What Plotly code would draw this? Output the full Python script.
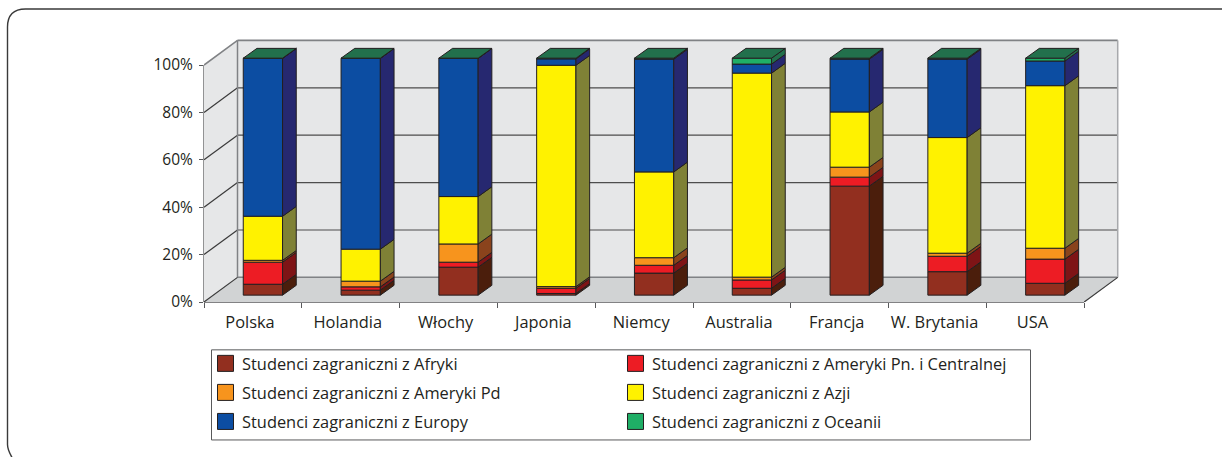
import plotly.graph_objects as go

categories = ["Polska", "Holandia", "Włochy", "Japonia", "Niemcy", "Australia", "Francja", "W. Brytania", "USA"]
afryka = [4.6, 2.1, 11.8, 0.7, 9.3, 2.9, 46.0, 9.9, 5.0]
ameryka_pn = [9.3, 1.4, 2.1, 2.2, 3.3, 3.5, 3.8, 6.5, 10.2]
ameryka_pd = [0.8, 2.4, 7.7, 0.7, 3.2, 1.2, 4.2, 1.3, 4.6]
azja = [18.6, 13.5, 20.0, 93.4, 36.2, 86.1, 23.3, 48.8, 68.6]
europa = [66.6, 80.5, 58.3, 2.7, 47.6, 3.8, 22.3, 33.1, 10.4]
oceania = [0.1, 0.1, 0.1, 0.3, 0.4, 2.5, 0.4, 0.4, 1.2]

series_names = ["Studenci zagraniczni z Afryki", "Studenci zagraniczni z Ameryki Pn. i Centralnej",
                "Studenci zagraniczni z Ameryki Pd", "Studenci zagraniczni z Azji",
                "Studenci zagraniczni z Europy", "Studenci zagraniczni z Oceanii"]
series_values = [afryka, ameryka_pn, ameryka_pd, azja, europa, oceania]
front_colors = ["#922f1f", "#ed1c24", "#f7941d", "#fff200", "#0c4da2", "#1fae66"]
side_colors = ["#4b1e0c", "#7e1416", "#8a431c", "#7f8136", "#262870", "#22704c"]
top_color = "#22704c"
ink = "#231f20"
FONT = "Open Sans"
FS = 16.4

W, H = 1225, 457
L, R, T, B = 204, 105, 38, 155.3
PX_X, PX_Y = 97.8, 2.367
plot_w, plot_h = W - L - R, H - T - B
x_max, y_max = plot_w / PX_X, plot_h / PX_Y

WALL_DX, WALL_DY = 33.5 / PX_X, 24.6 / PX_Y       # depth of the floor
BAR_DX, BAR_DY = 10 / PX_X, 6.85 / PX_Y           # shift of the bar front from the axis plane
SIDE_DX, SIDE_DY = 13.7 / PX_X, 9.8 / PX_Y        # depth of a bar
BAR_W = 39.3 / PX_X


def px(x):
    return (x - L) / plot_w


def py(y):
    return (H - B - y) / plot_h


fig = go.Figure()
shapes = []


def poly(points, fill, line=None, width=1, layer="below"):
    d = "M" + "L".join(f"{a},{b}" for a, b in points) + "Z"
    shapes.append(dict(type="path", path=d, xref="x", yref="y", fillcolor=fill, layer=layer,
                       line=dict(color=line or fill, width=width)))


def seg(x0, y0, x1, y1, color, width=1.2, xref="x", yref="y", layer="below"):
    shapes.append(dict(type="line", x0=x0, y0=y0, x1=x1, y1=y1, xref=xref, yref=yref, layer=layer,
                       line=dict(color=color, width=width)))


n = len(categories)
wall_edge = "#808285"
poly([(WALL_DX, WALL_DY), (n + WALL_DX, WALL_DY), (n + WALL_DX, 100 + WALL_DY), (WALL_DX, 100 + WALL_DY)], "#e6e7e8")
poly([(0, 0), (WALL_DX, WALL_DY), (WALL_DX, 100 + WALL_DY), (0, 100)], "#e6e7e8")
poly([(0, 0), (n, 0), (n + WALL_DX, WALL_DY), (WALL_DX, WALL_DY)], "#d1d3d4")
for v in [20, 40, 60, 80]:
    seg(WALL_DX, v + WALL_DY, n + WALL_DX, v + WALL_DY, "#4d4d4d")
    seg(0, v, WALL_DX, v + WALL_DY, "#3a3a3a")
seg(WALL_DX, WALL_DY, n + WALL_DX, WALL_DY, wall_edge, 1.5)
seg(WALL_DX, 100 + WALL_DY, n + WALL_DX, 100 + WALL_DY, wall_edge, 1.8)
seg(WALL_DX, WALL_DY, WALL_DX, 100 + WALL_DY, wall_edge, 1.5)
seg(n + WALL_DX, WALL_DY, n + WALL_DX, 100 + WALL_DY, "#a7a9ac", 1.5)
seg(0, 100, WALL_DX, 100 + WALL_DY, wall_edge, 1.5)
seg(0, 0, WALL_DX, WALL_DY, "#3a3a3a")
seg(n, 0, n + WALL_DX, WALL_DY, "#3a3a3a")
seg(0, 0, 0, 100, "#58595b", 1.3, xref="paper")
seg(0, 0, n, 0, "#58595b", 1.3, yref="paper")

# stacked bars: front faces through the bar trace, depth faces as filled polygons
xs = [i + 0.5 + BAR_DX for i in range(n)]
base = [BAR_DY] * n
for name, vals, fc, sc in zip(series_names, series_values, front_colors, side_colors):
    fig.add_trace(go.Bar(x=xs, y=vals, base=base, width=BAR_W, name=name, showlegend=False,
                         marker=dict(color=fc, line=dict(color=ink, width=1))))
    sx, sy = [], []
    for x, b, v in zip(xs, base, vals):
        r = x + BAR_W / 2
        sx += [r, r + SIDE_DX, r + SIDE_DX, r, r, None]
        sy += [b, b + SIDE_DY, b + v + SIDE_DY, b + v, b, None]
    fig.add_trace(go.Scatter(x=sx, y=sy, mode="lines", fill="toself", fillcolor=sc, showlegend=False,
                             line=dict(color=ink, width=1), hoverinfo="skip"))
    base = [b + v for b, v in zip(base, vals)]

tx, ty = [], []
for x, b in zip(xs, base):
    l, r = x - BAR_W / 2, x + BAR_W / 2
    tx += [l, r, r + SIDE_DX, l + SIDE_DX, l, None]
    ty += [b, b, b + SIDE_DY, b + SIDE_DY, b, None]
fig.add_trace(go.Scatter(x=tx, y=ty, mode="lines", fill="toself", fillcolor=top_color, showlegend=False,
                         line=dict(color=ink, width=1), hoverinfo="skip"))

annotations = []
# legend box
shapes.append(dict(type="rect", xref="paper", yref="paper", x0=px(211.5), x1=px(1030.5), y0=py(349.5), y1=py(439.5),
                   line=dict(color="#58595b", width=1), fillcolor="white", layer="above"))
for k, (name, fc) in enumerate(zip(series_names, front_colors)):
    col, row = k % 2, k // 2
    sx0 = 217.5 + col * 410
    cy = 363 + row * 29
    shapes.append(dict(type="rect", xref="paper", yref="paper", x0=px(sx0), x1=px(sx0 + 16), y0=py(cy - 8), y1=py(cy + 8),
                       fillcolor=fc, line=dict(color=ink, width=1), layer="above"))
    annotations.append(dict(text=name, xref="paper", yref="paper", x=px(sx0 + 22), y=py(cy), xanchor="left",
                            yanchor="middle", showarrow=False, font=dict(family=FONT, size=FS, color=ink)))

# rounded outer frame, open towards the right and the bottom
fx0, fx1, fy0, fy1 = px(7.5), px(1222), py(9), py(457)
kx, ky = 18 / plot_w, 18 / plot_h
shapes.append(dict(type="path", xref="paper", yref="paper", layer="below",
                   path=f"M{px(12)},{fy1}Q{fx0},{py(449)} {fx0},{py(444)}L{fx0},{fy0 - ky}Q{fx0},{fy0} {fx0 + kx},{fy0}L{fx1},{fy0}",
                   line=dict(color="#3a3a3a", width=1.4)))

fig.update_layout(
    width=W, height=H, margin=dict(l=L, r=R, t=T, b=B, autoexpand=False), paper_bgcolor="white", plot_bgcolor="white",
    barmode="overlay", showlegend=False, shapes=shapes, annotations=annotations,
    font=dict(family=FONT, size=FS, color=ink),
    xaxis=dict(range=[0, x_max], showgrid=False, zeroline=False, showline=False,
               tickmode="array", tickvals=[i + 0.47 for i in range(n)], ticktext=categories, ticks="",
               ticklabelstandoff=9, tickfont=dict(family=FONT, size=FS, color=ink),
               minor=dict(tickmode="array", tickvals=list(range(n + 1)), ticks="outside", ticklen=5,
                          tickcolor="#58595b", tickwidth=1, showgrid=False)),
    yaxis=dict(range=[0, y_max], showgrid=False, zeroline=False, showline=False,
               tickmode="array", tickvals=[0, 20, 40, 60, 80, 100], ticktext=["0%", "20%", "40%", "60%", "80%", "100%"],
               ticks="outside", ticklen=4, tickcolor="#58595b", tickwidth=1, ticklabelstandoff=3,
               tickfont=dict(family=FONT, size=15.5, color=ink)),
)
fig.write_html("out.html", config=dict(displayModeBar=False),
               post_script="document.body.style.margin='0';document.documentElement.style.overflow='hidden';")
